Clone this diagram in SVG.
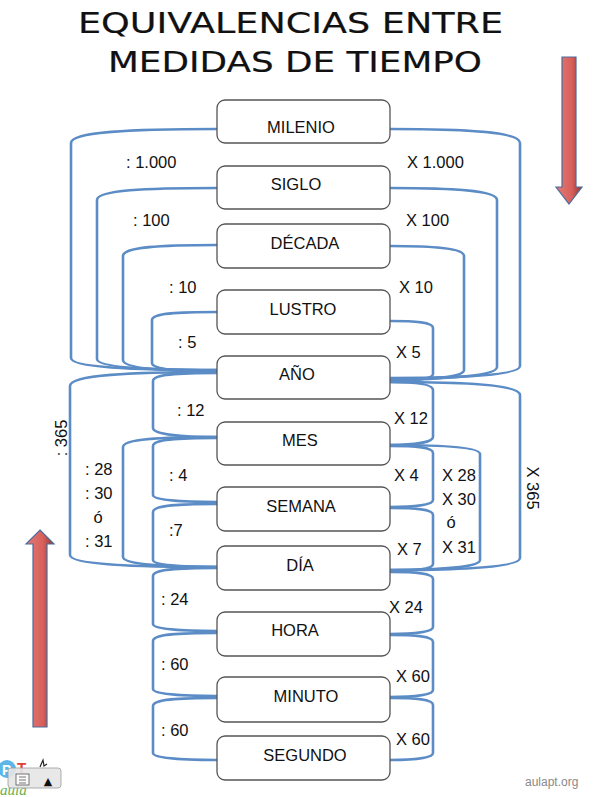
<svg xmlns="http://www.w3.org/2000/svg" width="593" height="797" viewBox="0 0 593 797">
<defs>
<style>
.box{fill:#fff;stroke:#555;stroke-width:1.3}
.bt{font-family:"Liberation Sans",Arial,sans-serif;font-size:16.5px;fill:#111;text-anchor:middle}
.lb{font-family:"Liberation Sans",Arial,sans-serif;font-size:16.5px;fill:#111}
.c{fill:none;stroke:#5b8cc6;stroke-width:2.6}
.title{font-family:"DejaVu Sans",sans-serif;font-size:29px;fill:#111;stroke:#111;stroke-width:0.2}
.arrow{stroke:#4e6c9c;stroke-width:1.2}
</style>
<linearGradient id="rg" x1="0" y1="0" x2="1" y2="0">
<stop offset="0" stop-color="#e07a76"/>
<stop offset="0.6" stop-color="#d9605b"/>
<stop offset="1" stop-color="#8f3532"/>
</linearGradient>
</defs>
<rect width="593" height="797" fill="#fff"/>
<g id="title">
<text class="title" x="78" y="33" textLength="425" lengthAdjust="spacingAndGlyphs">EQUIVALENCIAS ENTRE</text>
<text class="title" x="108" y="72" textLength="374" lengthAdjust="spacingAndGlyphs">MEDIDAS DE TIEMPO</text>
</g>
<g id="arrows">
<polygon class="arrow" fill="url(#rg)" points="562,57 576,57 576,187 582,187 569,204 556,187 562,187"/>
<polygon class="arrow" fill="url(#rg)" points="40,530 54,544 47,544 47,727 33,727 33,544 26,544"/>
</g>
<g id="connectors">
<path class="c" d="M217,129 C130,129 71,132 71,143 V358 C71,367 130,370 217,370"/>
<path class="c" d="M217,188 C145,188 97,190 97,200 V359 C97,367 145,370 217,370"/>
<path class="c" d="M217,245 C160,245 123,247 123,256 V360 C123,368 160,371 217,371"/>
<path class="c" d="M217,312 C180,312 152,313 152,320 V363 C152,369 180,372 217,372"/>
<path class="c" d="M217,372 C130,372 70,375 70,386 V555 C70,564 130,567 217,567"/>
<path class="c" d="M217,373 C180,373 153,374 153,381 V428 C153,434 180,437 217,437"/>
<path class="c" d="M217,437 C160,437 123,439 123,447 V557 C123,564 160,567 217,567"/>
<path class="c" d="M217,438 C180,438 153,439 153,446 V495 C153,500 180,502 217,502"/>
<path class="c" d="M217,504 C180,504 153,505 153,512 V560 C153,565 180,567 217,567"/>
<path class="c" d="M217,568 C180,568 153,569 153,576 V624 C153,629 180,631 217,631"/>
<path class="c" d="M217,633 C180,633 153,634 153,641 V689 C153,694 180,696 217,696"/>
<path class="c" d="M217,698 C180,698 153,699 153,706 V753 C153,758 180,760 217,760"/>
<path class="c" d="M390,129 C465,129 520,132 520,143 V366 C520,375 465,378 390,378"/>
<path class="c" d="M390,188 C450,188 497,190 497,200 V367 C497,376 450,379 390,379"/>
<path class="c" d="M390,246 C430,246 464,248 464,256 V370 C464,377 430,380 390,380"/>
<path class="c" d="M390,321 C415,321 433,322 433,328 V374 C433,379 415,381 390,381"/>
<path class="c" d="M390,382 C465,382 520,385 520,395 V558 C520,567 465,570 390,570"/>
<path class="c" d="M390,382 C415,382 433,384 433,390 V437 C433,442 415,445 390,445"/>
<path class="c" d="M390,445 C440,445 480,447 480,454 V560 C480,567 440,570 390,570"/>
<path class="c" d="M390,446 C415,446 433,447 433,453 V500 C433,505 415,507 390,507"/>
<path class="c" d="M390,508 C415,508 433,509 433,515 V564 C433,569 415,571 390,571"/>
<path class="c" d="M390,572 C415,572 433,573 433,579 V627 C433,632 415,634 390,634"/>
<path class="c" d="M390,635 C415,635 433,636 433,642 V690 C433,695 415,697 390,697"/>
<path class="c" d="M390,698 C415,698 433,699 433,705 V753 C433,758 415,760 390,760"/>
</g>
<g id="milenio"><rect class="box" x="217" y="100" width="173" height="43" rx="8"/><text class="bt" x="301" y="133">MILENIO</text></g>
<g id="siglo"><rect class="box" x="217" y="166" width="173" height="43" rx="8"/><text class="bt" x="296" y="190">SIGLO</text></g>
<g id="decada"><rect class="box" x="217" y="224" width="173" height="44" rx="8"/><text class="bt" x="305" y="249">DÉCADA</text></g>
<g id="lustro"><rect class="box" x="217" y="290" width="173" height="44" rx="8"/><text class="bt" x="303" y="315">LUSTRO</text></g>
<g id="anio"><rect class="box" x="217" y="356" width="173" height="43" rx="8"/><text class="bt" x="297" y="380">AÑO</text></g>
<g id="mes"><rect class="box" x="217" y="422" width="173" height="43" rx="8"/><text class="bt" x="300" y="446">MES</text></g>
<g id="semana"><rect class="box" x="217" y="487" width="173" height="44" rx="8"/><text class="bt" x="301" y="512">SEMANA</text></g>
<g id="dia"><rect class="box" x="217" y="546" width="173" height="44" rx="8"/><text class="bt" x="300" y="571">DÍA</text></g>
<g id="hora"><rect class="box" x="217" y="612" width="173" height="44" rx="8"/><text class="bt" x="295" y="636">HORA</text></g>
<g id="minuto"><rect class="box" x="217" y="677" width="173" height="45" rx="8"/><text class="bt" x="306" y="702">MINUTO</text></g>
<g id="segundo"><rect class="box" x="217" y="736" width="173" height="44" rx="8"/><text class="bt" x="305" y="761">SEGUNDO</text></g>
<g id="labels">
<text class="lb" x="126" y="168">: 1.000</text>
<text class="lb" x="133" y="226">: 100</text>
<text class="lb" x="169" y="293">: 10</text>
<text class="lb" x="178" y="348">: 5</text>
<text class="lb" x="407" y="168">X 1.000</text>
<text class="lb" x="406" y="226">X 100</text>
<text class="lb" x="399" y="293">X 10</text>
<text class="lb" x="396" y="358">X 5</text>
<text class="lb" x="177" y="416">: 12</text>
<text class="lb" text-anchor="middle" transform="translate(67,438) rotate(-90)">: 365</text>
<text class="lb" x="85" y="475">: 28</text>
<text class="lb" x="85" y="499">: 30</text>
<text class="lb" x="98" y="523" text-anchor="middle">ó</text>
<text class="lb" x="85" y="547">: 31</text>
<text class="lb" x="169" y="481">: 4</text>
<text class="lb" x="169" y="536">:7</text>
<text class="lb" x="394" y="424">X 12</text>
<text class="lb" x="394" y="481">X 4</text>
<text class="lb" x="442" y="481">X 28</text>
<text class="lb" x="442" y="505">X 30</text>
<text class="lb" x="451" y="528" text-anchor="middle">ó</text>
<text class="lb" x="442" y="553">X 31</text>
<text class="lb" text-anchor="middle" transform="translate(527,488) rotate(90)">X 365</text>
<text class="lb" x="397" y="555">X 7</text>
<text class="lb" x="161" y="605">: 24</text>
<text class="lb" x="389" y="613">X 24</text>
<text class="lb" x="161" y="670">: 60</text>
<text class="lb" x="396" y="682">X 60</text>
<text class="lb" x="161" y="736">: 60</text>
<text class="lb" x="396" y="745">X 60</text>
</g>
<g id="logo">
<circle cx="7" cy="769" r="9" fill="#5cb6e8"/>
<text x="2" y="775" font-family="Liberation Sans, sans-serif" font-size="14" font-weight="bold" fill="#fff">P</text>
<text x="17" y="773" font-family="Liberation Sans, sans-serif" font-size="15" font-weight="bold" fill="#e0403a">T</text>
<text x="0" y="795" font-family="Liberation Serif, serif" font-style="italic" font-size="15" fill="#6ab04c">aula</text>
<path d="M40,767 L43,760 L44,766 L47,764" fill="none" stroke="#222" stroke-width="1.2"/>
<rect x="8" y="768" width="53" height="20" rx="3" fill="#e6e6e6" fill-opacity="0.9" stroke="#9a9a9a" stroke-width="0.8"/>
<rect x="16" y="774" width="13" height="11" fill="#fafafa" stroke="#555" stroke-width="0.8"/>
<path d="M19,777 H26 M19,780 H26 M19,783 H26" stroke="#555" stroke-width="0.8"/>
<text x="48" y="785" text-anchor="middle" font-family="DejaVu Sans, sans-serif" font-size="11" fill="#111">▲</text>
</g>
<text x="525" y="786" font-family="Liberation Sans, Arial, sans-serif" font-size="12" fill="#8a8a8a">aulapt.org</text>
</svg>
